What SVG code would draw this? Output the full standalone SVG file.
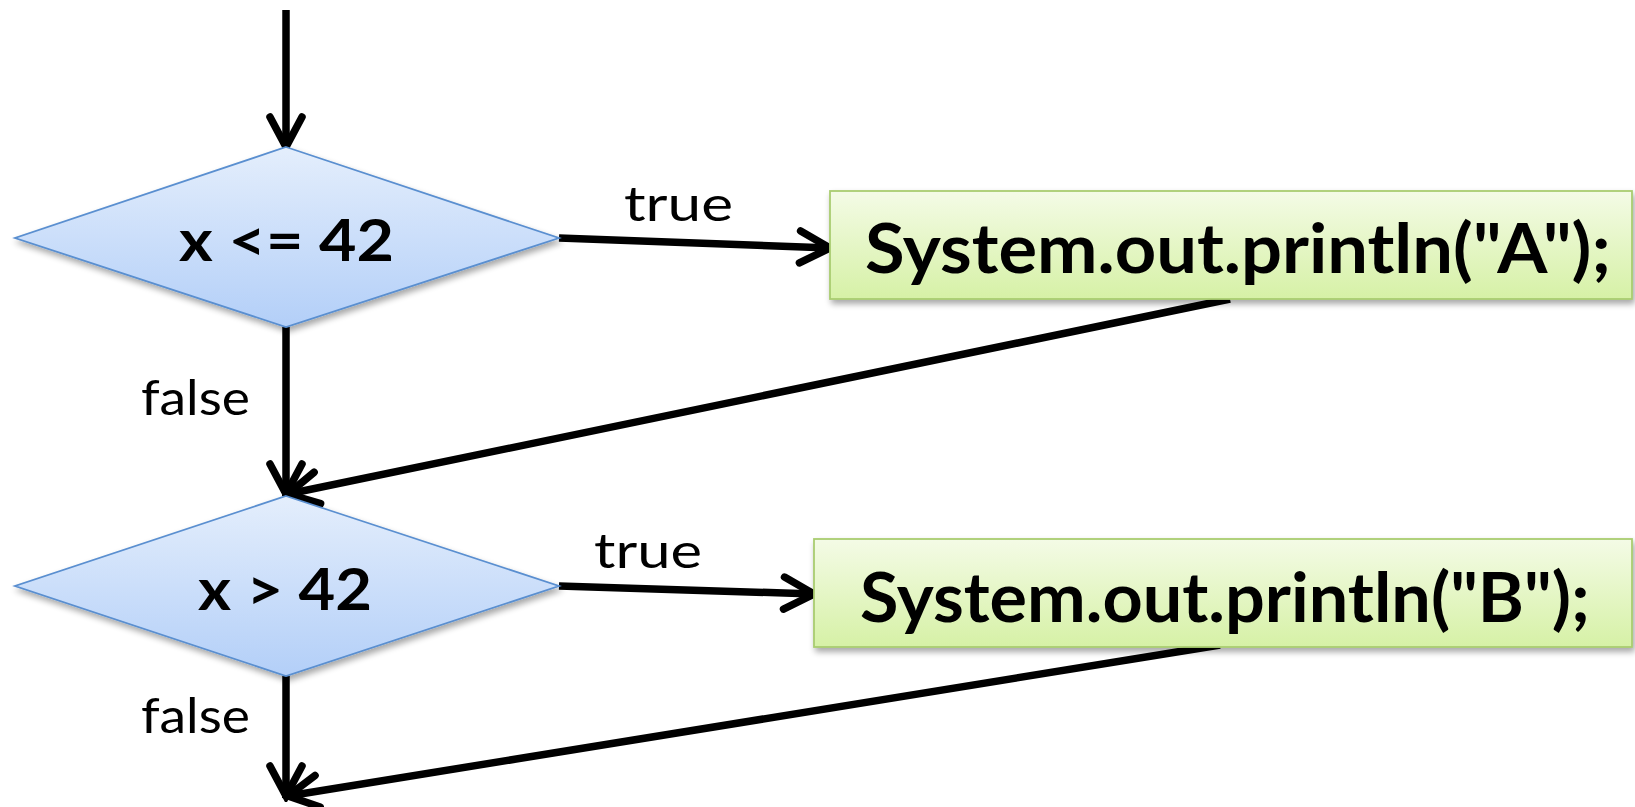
<svg xmlns="http://www.w3.org/2000/svg" width="1635" height="807" viewBox="0 0 1635 807">
<defs>
<linearGradient id="gBlue" x1="0" y1="0" x2="0" y2="1">
<stop offset="0" stop-color="#e4eefc"/>
<stop offset="1" stop-color="#b3cff8"/>
</linearGradient>
<linearGradient id="gGreen" x1="0" y1="0" x2="0" y2="1">
<stop offset="0" stop-color="#f4fbe6"/>
<stop offset="1" stop-color="#d6f1a6"/>
</linearGradient>
<filter id="sh" x="-5%" y="-10%" width="115%" height="130%">
<feGaussianBlur in="SourceAlpha" stdDeviation="3"/>
<feOffset dx="2" dy="4" result="b"/>
<feComponentTransfer><feFuncA type="linear" slope="0.35"/></feComponentTransfer>
<feMerge><feMergeNode/><feMergeNode in="SourceGraphic"/></feMerge>
</filter>
<marker id="arr" markerUnits="userSpaceOnUse" viewBox="-40 -22 46 44" refX="0" refY="0" markerWidth="46" markerHeight="44" orient="auto">
<path d="M-30,-16 L0,0 L-30,16" fill="none" stroke="#000" stroke-width="7.5" stroke-linecap="round" stroke-linejoin="miter"/>
</marker>
<style>
.dia{fill:url(#gBlue);stroke:#5a8fd0;stroke-width:1.8;filter:url(#sh)}
.box{fill:url(#gGreen);stroke:#a9cd70;stroke-width:1.8;filter:url(#sh)}
.cond{font-family:Lato,"Open Sans","Liberation Sans",sans-serif;font-weight:bold;font-size:58px;fill:#000}
.code{font-family:Lato,"Open Sans","Liberation Sans",sans-serif;font-weight:bold;font-size:68px;fill:#000}
.lbl{font-family:Lato,"Open Sans","Liberation Sans",sans-serif;font-size:48px;fill:#000}
.con{fill:none;stroke:#000;stroke-width:7.5;marker-end:url(#arr)}
</style>
</defs>
<g id="connectors">
<line class="con" x1="286" y1="10" x2="286" y2="147"/>
<line class="con" x1="559" y1="238" x2="830" y2="248"/>
<line class="con" x1="1230" y1="299" x2="288" y2="494"/>
<line class="con" x1="286" y1="327" x2="286" y2="494"/>
<line class="con" x1="559" y1="586" x2="814" y2="594"/>
<line class="con" x1="1220" y1="645" x2="288" y2="796"/>
<line class="con" x1="286" y1="676" x2="286" y2="796"/>
</g>
<g id="labels">
<text class="lbl" x="624" y="221" textLength="109" lengthAdjust="spacingAndGlyphs">true</text>
<text class="lbl" x="594" y="568" textLength="108" lengthAdjust="spacingAndGlyphs">true</text>
<text class="lbl" x="141" y="415" textLength="109" lengthAdjust="spacingAndGlyphs">false</text>
<text class="lbl" x="141" y="733" textLength="109" lengthAdjust="spacingAndGlyphs">false</text>
</g>
<g id="cond1">
<polygon class="dia" points="286,147 559,238 286,327 15,238"/>
<text class="cond" x="179" y="261" textLength="215" lengthAdjust="spacingAndGlyphs">x &lt;= 42</text>
</g>
<g id="printA">
<rect class="box" x="830" y="191" width="802" height="108"/>
<text class="code" x="865" y="273" textLength="746" lengthAdjust="spacingAndGlyphs">System.out.println("A");</text>
</g>
<g id="cond2">
<polygon class="dia" points="286,496 559,586 286,676 15,586"/>
<text class="cond" x="198" y="610" textLength="174" lengthAdjust="spacingAndGlyphs">x &gt; 42</text>
</g>
<g id="printB">
<rect class="box" x="814" y="539" width="818" height="108"/>
<text class="code" x="860" y="622" textLength="730" lengthAdjust="spacingAndGlyphs">System.out.println("B");</text>
</g>
</svg>
